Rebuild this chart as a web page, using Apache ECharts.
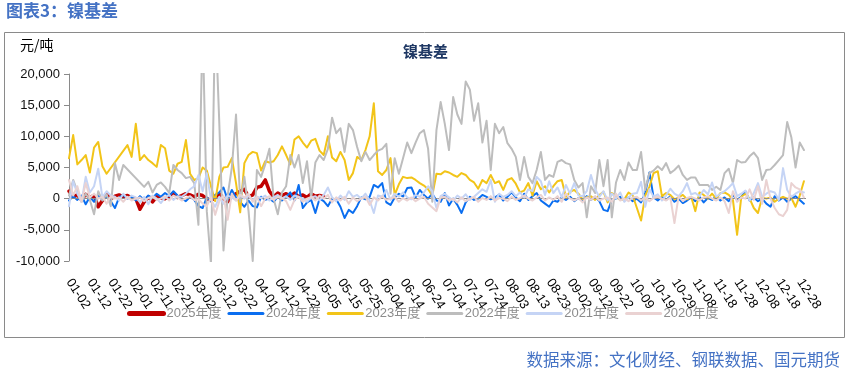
<!DOCTYPE html>
<html>
<head>
<meta charset="utf-8">
<script src="https://cdn.jsdelivr.net/npm/echarts@6/dist/echarts.min.js"></script>
<style>
html,body{margin:0;padding:0;background:#fff;}
#main{width:851px;height:375px;}
</style>
</head>
<body>
<div id="main"></div>
<script>
// ---- categories: trading-calendar dates (leap-year calendar minus closed days) ----
const closedDays = ['01-01','04-04','05-01','05-02','05-03','10-01','10-02','10-03','10-04','10-05','10-06','10-07'];
const monthDays = [31,29,31,30,31,30,31,31,30,31,30,31];
const categories = [];
for (let m = 0; m < 12; m++) {
  for (let d = 1; d <= monthDays[m]; d++) {
    const s = String(m + 1).padStart(2, '0') + '-' + String(d).padStart(2, '0');
    if (!closedDays.includes(s)) categories.push(s);
  }
}
const yTicks = { min: -10000, max: 20000, interval: 5000 };
const seriesNames = ['2025年度','2024年度','2023年度','2022年度','2021年度','2020年度'];

// values sampled every 2nd category
const v2025 = [
  1200, 300, 600, -200, 700, 200, 500, -1300, -300, 800,
  0, 400, 600, 300, 500, 100, 0, -1700, -500, 300,
  -500, 300, 100, 0, 400, 900, 200, 500, 800, 600,
  300, 700, 500, 0, -300, 200, 800, 0, -500, 400,
  800, 1200, 1500, 300, 600, 1800, 2000, 3000, 1200, 300,
  900, 500, 800, 400, 900, 300, 600, 200, 800, 400,
  500, 300
];
const v2024 = [
  -300, 400, -200, 500, -900, 300, -500, 500, -200, 300,
  -400, -1500, 200, 600, 0, 300, -300, 400, -200, 500,
  100, 800, 300, 900, 400, 1200, 500, 0, -400, 300,
  -200, -1200, -1500, 200, -400, 600, 1000, 1800, -200, 1400,
  200, -500, -1300, -300, -1200, -1400, 300, -200, 0, -500,
  300, -300, 300, 1000, -300, 2200, -1500, -600, -200, -2300,
  0, -400, -1200, 0, -100, -1300, -3100, -1800, -2300, -1200,
  200, -100, 300, 2200, 1800, 2500, -600, -1000, 200, 800,
  300, 1700, 1800, 200, 1400, 600, 0, 800, -300, -500,
  900, -1100, 0, -1000, -2300, -600, 300, -200, 0, 600,
  300, -100, 200, 600, -300, 300, 1000, 200, -400, 800,
  -200, 400, 900, -300, -800, -1300, -300, -500, 200, -200,
  300, -400, 100, -300, 400, -200, 300, -400, -1800, -2000,
  -200, 0, 300, -300, 200, -400, 0, -600, 900, 4200,
  200, -300, 300, -200, 400, -500, 0, -700, -300, 200,
  -400, 300, -600, 100, -200, 400, -300, 200, -400, 600,
  -200, 300, 1200, -300, 200, -400, 0, -800, -1300, 400,
  -300, 200, -500, 0, 400, -200, -800
];
const v2023 = [
  6500, 10200, 5500, 6200, 7000, 4200, 8200, 9100, 5200, 4000,
  null, null, null, null, 8600, 6700, 12000, 6200, 7000, 6200,
  5700, 5100, 8600, 8100, 4500, 4000, 5600, 5900, 9400, 4000,
  3000, 3300, 5000, 4500, 2000, -400, 3500, 5000, 5100, 6500,
  2500, -2200, 5700, 7000, 7500, 7300, 4500, 6000, 5800, 6000,
  7000, 8400, 7000, 5500, 9500, 10000, 9000, 8200, 9300, 9600,
  7700, 7000, 10000, 6600, 6000, 7500, 6200, 3000, 4100, 6700,
  6200, 7800, 10000, 15300, 4400, 3800, 4600, 6500, 600, 2300,
  3500, 3300, 3400, 3000, 2500, 2100, 1500, 500, 4000, 3900,
  4400, 4200, 3800, 3500, 4100, 3800, 3000, 2600, 1600, 3000,
  2500, 3800, 2500, 2800, 1400, 3000, 3300, 2400, 1000, 1300,
  2500, 500, 2800, 1500, 2000, 1000, 2000, 2800, 3000, 300,
  1100, 1400, 800, -100, 200, 400, -200, 600, 1100, -600,
  900, 300, -200, -100, 1000, 500, -1500, -3500, 500, 1900,
  4100, 4400, 400, 900, 600, -100, 200, 600, -100, 300,
  -2000, 1000, 600, 0, 800, 0, 900, 1000, 600, -200,
  -5800, 300, 800, 0, -1500, -2300, 200, 0, 200, -500,
  0, 300, 0, 100, -1300, 500, 2800
];
const v2022 = [
  500, 3000, 1200, -500, 800, -200, -2500, 1200, -300, 700,
  -1200, 5700, 3000, 5400, null, null, null, null, 1900, 2700,
  1000, 2200, 2600, 1900, 900, 5400, 4600, 4100, 3300, 3500,
  2500, -4200, 28000, -2000, -10500, 30000, 12000, -8300, 500, 5000,
  13500, -500, 3500, -2000, -10000, 4600, 3500, 5500, 8000, 0,
  -2500, 1000, 2000, 7000, 5000, 7000, 2500, 6000, 0, 5800,
  7000, 6200, 8000, 13000, 10500, 11300, 7500, 12000, 11000, 8300,
  6000, 7500, 6200, 7000, 7700, 8000, 8800, 800, 6500, 4000,
  6500, 9000, 7300, 9000, 10500, 11000, 8000, -500, 11000, 15500,
  12000, 7800, 16300, 13500, 12000, 18800, 17500, 12500, 15300, 9000,
  12500, 4600, 12000, 10500, 11500, 8900, 8000, 6700, 3000, 6700,
  3500, 2500, 4600, 7500, 3000, 3800, 3500, 5900, 6200, 5700,
  5500, 3000, 1800, 2500, -3000, 2000, 900, 6200, 2000, 6200,
  -3000, 2600, 4600, 3000, 5800, 4600, 4600, 7500, 1400, 4100,
  4500, 5200, 4600, 5700, 4100, 4600, 5300, 3800, 3000, 3400,
  3400, 2200, 2200, 2200, 1400, 1900, 1400, 4100, 4800, 2500,
  6200, 5800, 5900, 6800, 7400, 6500, 3000, 4600, 4700, 5400,
  6200, 7000, 12300, 9800, 5000, 9000, 7800
];
const v2021 = [
  -1200, 2800, 800, -500, 3500, 1000, 2000, 4800, 200, 1200,
  500, 300, -300, 800, 0, 500, 200, -600, 300, -900,
  500, 0, -700, 200, 600, -200, 400, 300, 800, 1500,
  2000, 3800, 1200, 4100, -200, -1300, 300, -800, 500, 200,
  -300, 600, 0, 400, -200, 300, 100, 500, -300, 200,
  600, 0, 400, -200, 500, 300, 0, -500, 200, 400,
  -300, 600, 1800, 200, -400, 500, -200, 1200, 300, 600,
  0, 800, -300, -2300, 500, 300, 1400, -200, 800, 300,
  1000, 200, -100, 600, 300, 1000, 2000, 1200, -1500, 400,
  800, 200, -300, 500, 0, 700, -200, 300, 900, 1500,
  1100, 3000, -500, 800, 300, 600, 1200, 400, 1000, 200,
  1500, 1200, 3500, 2800, 600, 2800, 900, 1800, 200, 2200,
  800, 2500, 500, 400, 1200, 3800, 1500, 300, 1200, -300,
  800, 0, 1000, -500, 200, 800, 900, 2700, -1300, 1500,
  300, 700, -300, 500, 1600, 800, 400, 1200, 2500, 700,
  900, 400, 1400, 700, 2600, 300, 800, 1200, 1800, 2500,
  400, 800, 1300, -300, 900, 2500, 300, 800, 1200, 1000,
  -200, 4900, 1400, 300, 800, 1200, 1000
];
const v2020 = [
  3000, 500, 2000, -500, 2500, 200, 800, 0, 300, -800,
  400, 0, 200, -500, 300, -300, 0, 200, -400, 100,
  300, -200, 0, 400, -300, 500, 200, -300, 100, 400,
  -200, -100, -800, -1200, 200, -2600, -400, 500, -3400, 800,
  -300, 600, 200, 800, -500, 300, -1200, 0, 400, -200,
  300, 100, -400, -1800, -200, 300, -500, 0, 300, -300,
  500, 0, 600, -600, 200, -300, 300, -800, 200, -400,
  0, 300, -1000, 200, -300, 400, -200, 0, 300, -500,
  100, -300, 200, -400, 0, 300, -800, -1400, -2000, 200,
  300, -300, 0, -600, 200, -400, 0, 300, -500, 100,
  -200, 400, -300, 100, 0, -400, 300, -200, 100, 500,
  0, -300, 200, 600, -300, 200, -200, 400, -500, 800,
  0, -300, 100, -600, 200, -200, 400, -300, 0, 200,
  -500, 800, -300, 0, -400, 200, 300, -300, 200, -400,
  100, 300, 0, -300, 200, -3900, 400, -400, 100, 300,
  0, -300, 200, 400, 0, -300, 200, -400, -2300, 1200,
  -500, 200, 0, 1500, -200, 2000, -800, 3000, 0, -1500,
  -2500, -2800, -1800, 2500, 1800, 1500, 200
];

const seriesValues = [v2025, v2024, v2023, v2022, v2021, v2020];
const colors = ['#C00000', '#0A6EF0', '#F2C418', '#BDBDBD', '#C5D4F5', '#EAD2D2'];
const widths = [3.5, 2, 2, 2, 2, 2];
const legendWidths = [5, 3, 3, 3, 3, 3];

function toFull(arr) {
  const full = new Array(categories.length).fill(null);
  arr.forEach((v, i) => { if (2 * i < categories.length) full[2 * i] = v; });
  return full;
}

const series = seriesNames.map((name, k) => {
  const s = {
    name: name,
    type: 'line',
    data: toFull(seriesValues[k]),
    symbol: 'none',
    connectNulls: true,
    clip: true,
    lineStyle: { color: colors[k], width: widths[k], cap: 'round', join: 'round' },
    itemStyle: { color: colors[k] },
    emphasis: { disabled: true },
    z: 2 + k
  };
  if (k === 0) {
    s.markLine = {
      silent: true, symbol: 'none', animation: false,
      label: { show: false },
      lineStyle: { color: '#8a8a8a', width: 1, type: 'solid' },
      data: [{ yAxis: 0 }]
    };
  }
  return s;
});

const chart = echarts.init(document.getElementById('main'), null, { renderer: 'canvas' });
chart.setOption({
  animation: false,
  backgroundColor: '#fff',
  textStyle: { fontFamily: 'Liberation Sans, Arial, Noto Sans CJK SC, sans-serif' },
  grid: { left: 69, right: 45, top: 74, bottom: 114, containLabel: false },
  legend: {
    data: seriesNames.map((n, k) => ({ name: n, lineStyle: { width: legendWidths[k], cap: 'round' } })),
    left: 127, top: 307,
    itemWidth: 34, itemHeight: 14, itemGap: 6,
    padding: 0,
    itemStyle: { opacity: 0, borderWidth: 0 },
    textStyle: { color: '#8c8c8c', fontSize: 13, fontFamily: 'Liberation Sans, Noto Sans CJK SC, sans-serif', padding: [0, 0, 0, -2] }
  },
  xAxis: {
    type: 'category',
    data: categories,
    boundaryGap: false,
    axisLine: { show: false, onZero: false },
    axisTick: { show: false },
    splitLine: { show: false },
    axisLabel: {
      interval: 9, rotate: -57, margin: 19,
      color: '#000', fontSize: 13, fontFamily: 'Liberation Sans, Arial, sans-serif'
    }
  },
  yAxis: {
    type: 'value',
    min: yTicks.min, max: yTicks.max, interval: yTicks.interval,
    axisLine: { show: true, lineStyle: { color: '#8a8a8a' } },
    axisTick: { show: true, length: 5, lineStyle: { color: '#8a8a8a' } },
    splitLine: { show: false },
    axisLabel: { color: '#111', fontSize: 13, margin: 9, fontFamily: 'Liberation Sans, Arial, sans-serif' }
  },
  graphic: [
    { type: 'rect', shape: { x: 4.5, y: 32.5, width: 840, height: 305 }, style: { fill: 'none', stroke: '#8a8a8a', lineWidth: 1 }, silent: true, z: -1 },
    { type: 'text', left: 6, top: 2, style: { text: '图表3：镍基差', fill: '#4472C4', font: 'bold 17px "Noto Sans CJK SC", sans-serif' } },
    { type: 'text', left: 'center', top: 44, style: { text: '镍基差', fill: '#1F3864', font: 'bold 15px "Noto Sans CJK SC", sans-serif' } },
    { type: 'text', left: 20, top: 38, style: { text: '元/吨', fill: '#000', font: '14px "Noto Sans CJK SC", sans-serif' } },
    { type: 'text', right: 11, top: 351, style: { text: '数据来源：文化财经、钢联数据、国元期货', fill: '#4472C4', font: '16.5px "Noto Sans CJK SC", sans-serif' } }
  ],
  series: series
});
</script>
</body>
</html>
